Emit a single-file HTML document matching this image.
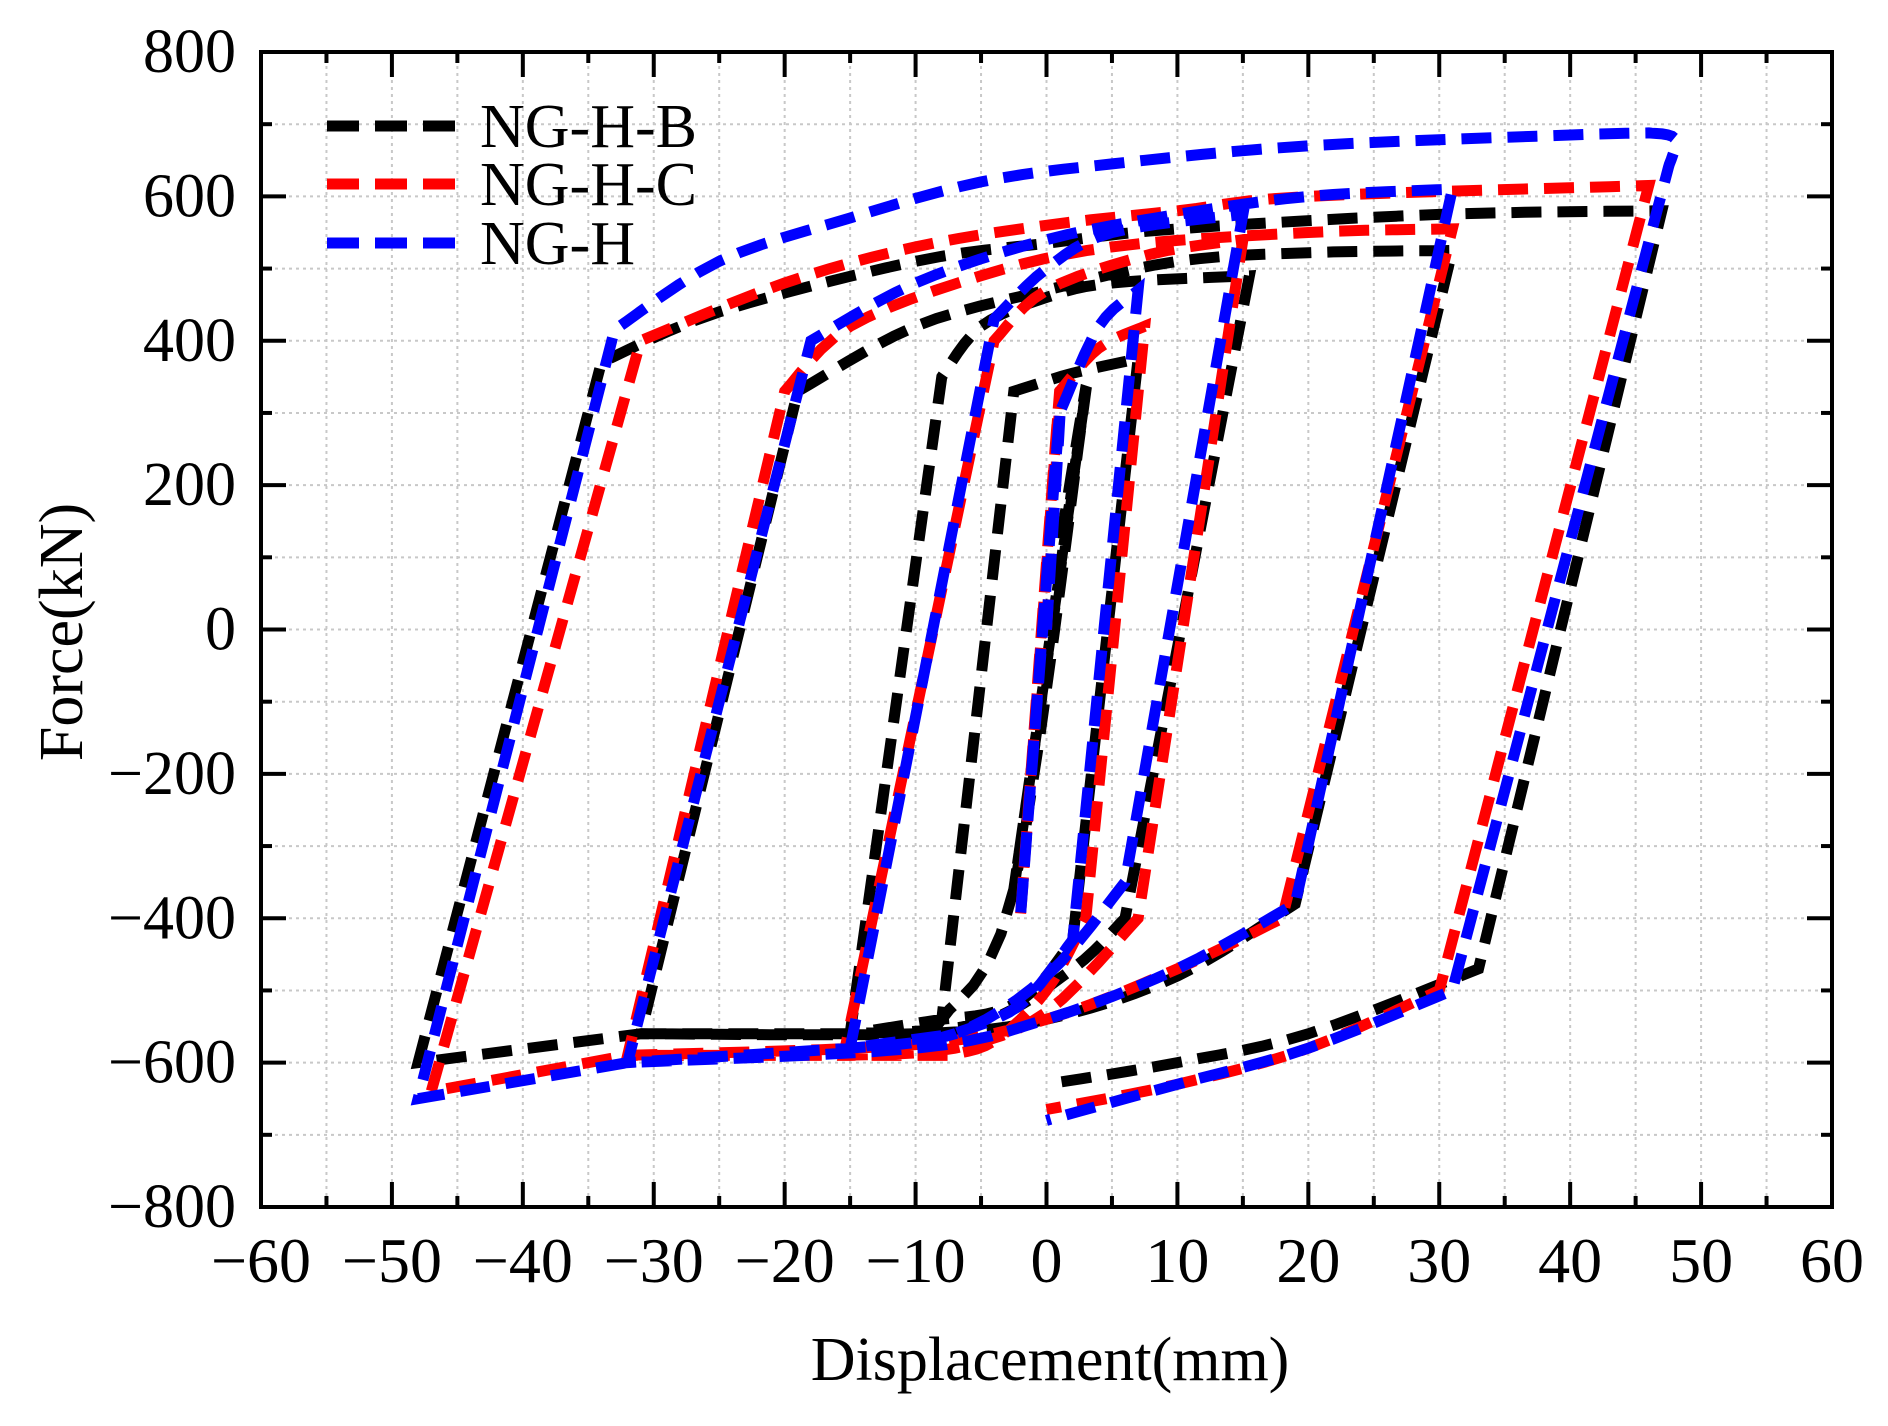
<!DOCTYPE html>
<html><head><meta charset="utf-8"><style>
html,body{margin:0;padding:0;background:#fff;}
svg{display:block;}
text{font-family:"Liberation Serif",serif;fill:#000;}
</style></head><body>
<svg id="s" width="1888" height="1426" viewBox="0 0 1888 1426" xmlns="http://www.w3.org/2000/svg">
<g id="grid"></g>
<g id="data" fill="none" stroke-width="11" stroke-dasharray="30 16"></g>
<g id="axes"></g>
<g>
<text x="1050" y="1380" text-anchor="middle" font-size="62">Displacement(mm)</text>
<text transform="translate(82,632) rotate(-90)" text-anchor="middle" font-size="62">Force(kN)</text>
</g>
<g id="legend">
<line x1="327" y1="126" x2="470" y2="126" stroke="#000" stroke-width="11" stroke-dasharray="32 16"/>
<line x1="327" y1="184" x2="470" y2="184" stroke="#f00" stroke-width="11" stroke-dasharray="32 16"/>
<line x1="327" y1="243" x2="470" y2="243" stroke="#00f" stroke-width="11" stroke-dasharray="32 16"/>
<text x="480" y="147" font-size="62">NG-H-B</text>
<text x="480" y="205" font-size="62">NG-H-C</text>
<text x="480" y="264" font-size="62">NG-H</text>
</g>
</svg>
<script>
const L=261,R=1832,T=52,B=1207;
const X=d=>1046.5+d*(R-L)/120, Y=f=>(T+B)/2-f*(B-T)/1600;
const NS="http://www.w3.org/2000/svg";
function el(p,tag,at){const e=document.createElementNS(NS,tag);for(const k in at)e.setAttribute(k,at[k]);p.appendChild(e);return e;}
const grid=document.getElementById('grid'),axes=document.getElementById('axes'),svg=document.getElementById('s');
for(let d=-55;d<60;d+=5){el(grid,'line',{x1:X(d),x2:X(d),y1:T,y2:B,stroke:'#c8c8c8','stroke-width':2,'stroke-dasharray':'3 4'});}
for(let f=-700;f<800;f+=100){el(grid,'line',{x1:L,x2:R,y1:Y(f),y2:Y(f),stroke:'#c8c8c8','stroke-width':2,'stroke-dasharray':'3 4'});}
for(let d=-55;d<60;d+=5){const maj=d%10===0,len=maj?25:11;
 el(axes,'line',{x1:X(d),x2:X(d),y1:B,y2:B-len,stroke:'#000','stroke-width':4});
 el(axes,'line',{x1:X(d),x2:X(d),y1:T,y2:T+len,stroke:'#000','stroke-width':4});}
for(let f=-700;f<800;f+=100){const maj=f%200===0,len=maj?25:11;
 el(axes,'line',{x1:L,x2:L+len,y1:Y(f),y2:Y(f),stroke:'#000','stroke-width':4});
 el(axes,'line',{x1:R,x2:R-len,y1:Y(f),y2:Y(f),stroke:'#000','stroke-width':4});}
el(axes,'rect',{x:L,y:T,width:R-L,height:B-T,fill:'none',stroke:'#000','stroke-width':4});
for(let d=-60;d<=60;d+=10){const t=el(svg,'text',{x:X(d),y:1282,'text-anchor':'middle','font-size':64});t.textContent=(d<0?'\u2212':'')+Math.abs(d);}
for(let f=-800;f<=800;f+=200){const t=el(svg,'text',{x:236,y:Y(f)+20,'text-anchor':'end','font-size':62});t.textContent=(f<0?'\u2212':'')+Math.abs(f);}
function path(pts){let s='M'+X(pts[0][0]).toFixed(1)+','+Y(pts[0][1]).toFixed(1);
 for(let i=1;i<pts.length;i++)s+='L'+X(pts[i][0]).toFixed(1)+','+Y(pts[i][1]).toFixed(1);return s;}
function smooth(pts,n){
 const out=[];for(let i=0;i<pts.length-1;i++){const p0=pts[Math.max(i-1,0)],p1=pts[i],p2=pts[i+1],p3=pts[Math.min(i+2,pts.length-1)];
 for(let k=0;k<n;k++){const t=k/n,t2=t*t,t3=t2*t;
  out.push([0.5*((2*p1[0])+(-p0[0]+p2[0])*t+(2*p0[0]-5*p1[0]+4*p2[0]-p3[0])*t2+(-p0[0]+3*p1[0]-3*p2[0]+p3[0])*t3),
            0.5*((2*p1[1])+(-p0[1]+p2[1])*t+(2*p0[1]-5*p1[1]+4*p2[1]-p3[1])*t2+(-p0[1]+3*p1[1]-3*p2[1]+p3[1])*t3)]);}}
 out.push(pts[pts.length-1]);return out;}
function series(segs,color){let pts=[];segs.forEach(s=>{const sm=s.length>2?smooth(s,6):s;pts=pts.concat(sm);});
 el(document.getElementById('data'),'path',{d:path(pts),stroke:color});}
const black=[
 [[0,0],[3,330],[-2.5,-360],[3,330]],
 [[3,330],[-2.5,-360],[-8,-540]],
 [[-8,-540],[-2.5,330]],[[-2.5,330],[2,355],[7,375]],[[7,375],[2,-430]],[[2,-430],[-1,-500],[-4,-530],[-8,-540]],
 [[-8,-540],[-15,-560]],
 [[-15,-560],[-8,350]],[[-8,350],[-5,420],[0,460],[5,480],[15.5,490]],[[15.5,490],[6,-400]],[[6,-400],[2,-470],[-5,-545],[-15,-560]],
 [[-15,-560],[-31,-560]],
 [[-31,-560],[-19,330]],[[-19,330],[-10,420],[0,470],[10,510],[20,522],[31,525]],[[31,525],[19,-380]],[[19,-380],[10,-480],[0,-540],[-10,-560],[-31,-560]],
 [[-31,-560],[-48,-600]],
 [[-48,-600],[-34,370]],[[-34,370],[-25,440],[-10,510],[0,535],[10,555],[30,575],[47,580]],[[47,580],[33,-470]],[[33,-470],[20,-560],[10,-600],[0,-630]]
];
const red=[
 [[0,0],[1,330],[-2,-400],[1,330]],
 [[1,330],[4,390],[7.5,420]],[[7.5,420],[3,-400]],[[3,-400],[0,-500],[-4,-570],[-7.5,-590]],
 [[-7.5,-590],[-15.5,-590]],
 [[-15.5,-590],[-4,400]],[[-4,400],[0,470],[8,520],[15,540]],[[15,540],[7,-400]],[[7,-400],[0,-530],[-7,-580],[-15.5,-590]],
 [[-15.5,-590],[-32,-590]],
 [[-32,-590],[-20,330]],[[-20,330],[-15,420],[-5,490],[5,530],[20,550],[31,555]],[[31,555],[18,-400]],[[18,-400],[10,-470],[0,-540],[-10,-575],[-32,-590]],
 [[-32,-590],[-47,-640]],
 [[-47,-640],[-31,400]],[[-31,400],[-20,480],[-10,530],[0,560],[10,580],[20,600],[46,615]],[[46,615],[30,-500]],[[30,-500],[20,-580],[10,-630],[0,-665]]
];
const blue=[
 [[0,0],[1,300],[-2,-400],[1,300]],
 [[1,300],[4,420],[7,470]],[[7,470],[2,-430]],[[2,-430],[-2,-520],[-7,-560]],
 [[-7,-560],[-15,-580]],
 [[-15,-580],[-4,430]],[[-4,430],[0,500],[5,550],[15,575]],[[15,575],[6,-350]],[[6,-350],[0,-480],[-7,-560],[-15,-580]],
 [[-15,-580],[-32,-600]],
 [[-32,-600],[-18,400]],[[-18,400],[-10,480],[0,540],[10,575],[20,600],[31,610]],[[31,610],[19,-380]],[[19,-380],[10,-470],[0,-540],[-10,-580],[-32,-600]],
 [[-32,-600],[-48,-650]],
 [[-48,-650],[-33,415]],[[-33,415],[-25,510],[-15,570],[-5,620],[5,645],[20,670],[40,685],[46,688]],[[46,688],[48,680],[47.5,640]],[[47.5,640],[31,-500]],[[31,-500],[20,-580],[10,-630],[0,-680]]
];
series(black,'#000');series(red,'#f00');series(blue,'#00f');
</script>
</body></html>
